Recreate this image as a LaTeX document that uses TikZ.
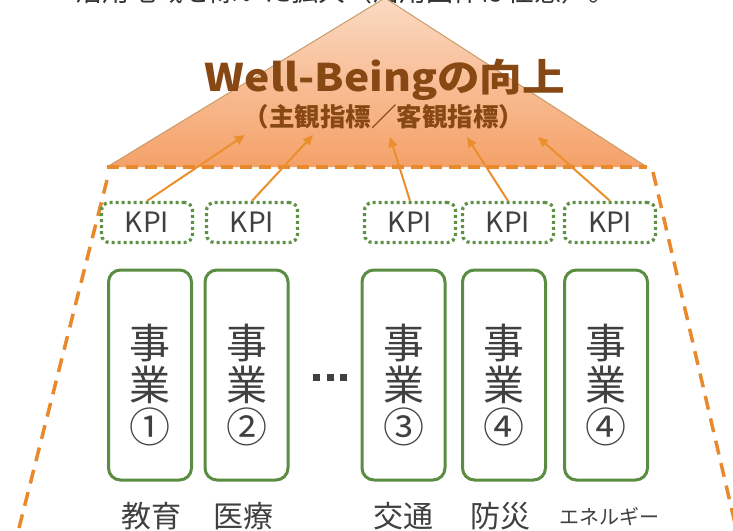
\documentclass[tikz,border=0pt]{standalone}
\usepackage{fontspec}
\newfontfamily\jp{Noto Sans CJK JP}
\newfontfamily\jpw[FakeStretch=1.12]{Noto Sans CJK JP}
\usetikzlibrary{arrows.meta}
\definecolor{tritop}{HTML}{FBDAC3}
\definecolor{tribot}{HTML}{F5A168}
\definecolor{triline}{HTML}{C99C6A}
\definecolor{dorange}{HTML}{E8892B}
\definecolor{aorange}{HTML}{EA8F2C}
\definecolor{titlebrown}{HTML}{874814}
\definecolor{kgreen}{HTML}{5E9146}
\definecolor{bgreen}{HTML}{5A8C42}
\definecolor{tgray}{HTML}{404040}
\begin{document}
\begin{tikzpicture}[x=1pt,y=-1pt,
  kpibox/.style={draw=kgreen, line width=3.2pt, dash pattern=on 3pt off 3pt, rounded corners=8pt,
    minimum width=91pt, minimum height=40pt, inner sep=0pt, font=\jp\fontsize{28}{30}\selectfont, text=tgray},
  bizbox/.style={draw=bgreen, line width=3pt, rounded corners=12pt, minimum width=83pt, minimum height=210pt, inner sep=0pt},
  biztext/.style={align=center, inner sep=0pt, font=\jp\fontsize{41}{42}\selectfont, text=tgray},
  lbl/.style={font=\jp\fontsize{30}{32}\selectfont, text=tgray, inner sep=0pt},
  arr/.style={draw=aorange, line width=2pt, -{Triangle[length=10pt,width=9pt]}},
  sidedash/.style={draw=dorange, line width=3.5pt, dash pattern=on 14pt off 9pt},
  basedash/.style={draw=dorange, line width=3.5pt, dash pattern=on 12pt off 7pt},
  dotsq/.style={fill=tgray, minimum size=7pt, inner sep=0pt}
]
\useasboundingbox (0,0) rectangle (733,530);
\clip (0,0) rectangle (733,530);
\fill[white] (0,0) rectangle (733,530);

% caption cut at top
\node[font=\jp\fontsize{27}{27}\selectfont, text=black!80, anchor=base, inner sep=0pt] (cap) at (345,1.5) {活用地域を除いた拡大（活用団体は任意）。};

% triangle
\coordinate (apex) at (385,-2);
\coordinate (tl) at (107,167);
\coordinate (tr) at (647,167);
\shade[top color=tritop, bottom color=tribot] (apex) -- (tl) -- (tr) -- cycle;
\draw[triline, line width=1pt] (tl) -- (apex) -- (tr);
\draw[basedash] (tl) -- (tr);

% side dashed lines
\coordinate (ls) at (107,180);
\coordinate (le) at (18,532);
\coordinate (rs) at (653,172);
\coordinate (re) at (737,532);
\draw[sidedash] (ls) -- (le);
\draw[sidedash] (rs) -- (re);

% titles
\node[font=\jpw\bfseries\fontsize{38}{40}\selectfont, text=titlebrown, anchor=base, inner sep=0pt] (title) at (385,91) {Well-Beingの向上};
\node[font=\jp\bfseries\fontsize{25.5}{27}\selectfont, text=titlebrown, anchor=base, inner sep=0pt] (sub) at (384,126) {（主観指標／客観指標）};

% KPI boxes
\node[kpibox] (k1) at (147,222.5) {KPI};
\node[kpibox] (k2) at (252,222.5) {KPI};
\node[kpibox] (k3) at (410,222.5) {KPI};
\node[kpibox] (k4) at (508,222.5) {KPI};
\node[kpibox] (k5) at (610,222.5) {KPI};

% arrow targets
\coordinate (t1) at (245,135);
\coordinate (t2) at (313,135);
\coordinate (t3) at (390,137);
\coordinate (t4) at (467,137);
\coordinate (t5) at (538,137);
\draw[arr] (k1.north) -- (t1);
\draw[arr] (k2.north) -- (t2);
\draw[arr] (k3.north) -- (t3);
\draw[arr] (k4.north) -- (t4);
\draw[arr] (k5.north) -- (t5);

% business boxes
\node[bizbox] (b1) at (150,375) {};
\node[bizbox] (b2) at (246.5,375) {};
\node[bizbox] (b3) at (403.5,375) {};
\node[bizbox] (b4) at (504,375) {};
\node[bizbox] (b5) at (606,375) {};
\node[biztext] (bt1) at (150,385) {事\\業\\①};
\node[biztext] (bt2) at (246.5,385) {事\\業\\②};
\node[biztext] (bt3) at (403.5,385) {事\\業\\③};
\node[biztext] (bt4) at (504,385) {事\\業\\④};
\node[biztext] (bt5) at (606,385) {事\\業\\④};

% ellipsis dots
\node[dotsq] (d1) at (316.5,377) {};
\node[dotsq] (d2) at (330,377) {};
\node[dotsq] (d3) at (343.5,377) {};

% labels
\node[lbl] (l1) at (151,516) {教育};
\node[lbl] (l2) at (243,516) {医療};
\node[lbl] (l3) at (403,516) {交通};
\node[lbl] (l4) at (500,516) {防災};
\node[lbl, font=\jp\fontsize{20}{22}\selectfont] (l5) at (609,517) {エネルギー};
\end{tikzpicture}
\end{document}
